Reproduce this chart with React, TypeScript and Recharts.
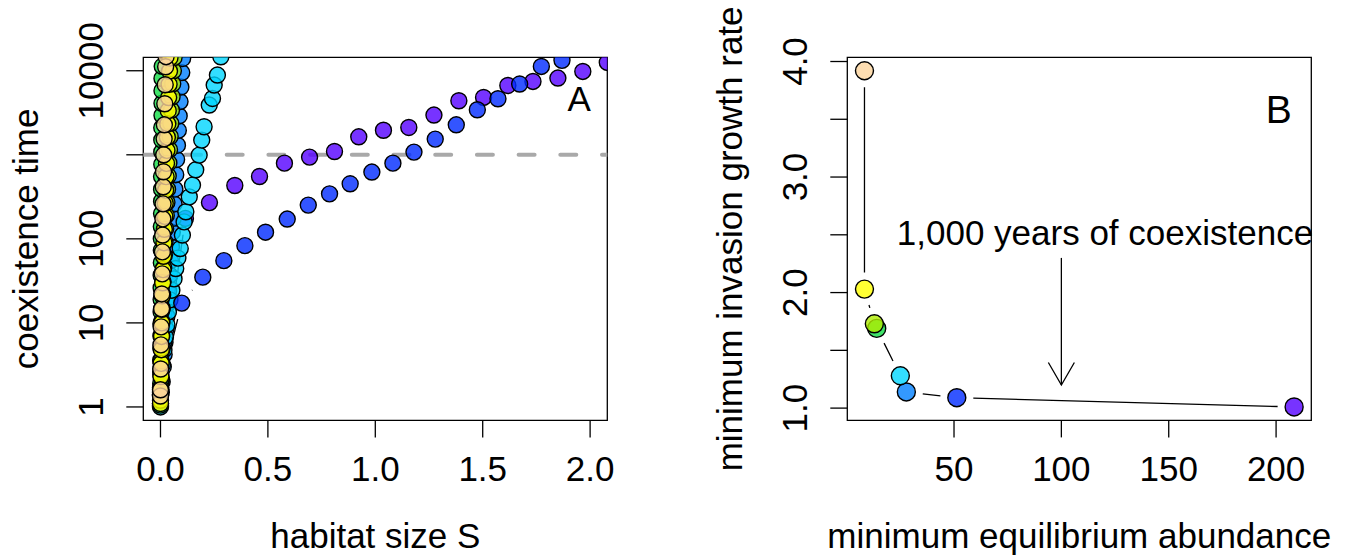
import React from "react";
import {
  ScatterChart,
  Scatter,
  XAxis,
  YAxis,
  ReferenceArea,
  ReferenceLine,
  ReferenceDot,
} from "recharts";

// ---- panel A: coexistence time against habitat size ----
const purpleS = [0.0, 0.116, 0.228, 0.346, 0.461, 0.577, 0.694, 0.81, 0.923, 1.038, 1.156, 1.273, 1.389, 1.504, 1.617, 1.734, 1.85, 1.966, 2.08];
const purpleT = [1.5, 175, 270, 431, 552, 796, 939, 1094, 1637, 1958, 2114, 2971, 4395, 4812, 6681, 7460, 8185, 9810, 12560];

const blueS = [0.0, 0.099, 0.197, 0.295, 0.393, 0.489, 0.59, 0.688, 0.787, 0.883, 0.984, 1.082, 1.18, 1.279, 1.377, 1.475, 1.571, 1.672, 1.773, 1.869];
const blueT = [1.7, 17.2, 35, 55, 83, 120, 172, 252, 343, 452, 623, 796, 1077, 1537, 2275, 3433, 4643, 6950, 11250, 13300];

const cyanS = [0.0, 0.0, 0.005, 0.009, 0.016, 0.023, 0.03, 0.037, 0.044, 0.053, 0.063, 0.071, 0.081, 0.092, 0.102, 0.11, 0.118, 0.134, 0.149, 0.164, 0.18, 0.192, 0.203, 0.227, 0.242, 0.25, 0.265, 0.281];
const cyanT = [1.0, 1.39, 2.1, 3.16, 4.77, 6.8, 9.5, 13.5, 18.8, 24.5, 33.4, 44.3, 59, 76.7, 111, 159, 210, 316, 436, 663, 992, 1496, 2155, 3905, 4680, 6760, 8890, 14680];

const skyS = [0.0, 0.004, 0.008, 0.013, 0.017, 0.021, 0.026, 0.03, 0.034, 0.038, 0.043, 0.047, 0.051, 0.055, 0.059, 0.063, 0.067, 0.071, 0.075, 0.079, 0.083, 0.087, 0.091, 0.095, 0.099, 0.103];
const skyT = [1.1, 1.5, 2.0, 3.0, 4.2, 5.9, 8.5, 12, 17, 24, 37, 55, 80, 120, 175, 260, 390, 580, 880, 1300, 1950, 2900, 4300, 6400, 9500, 14000];

const greenS = [0.0, 0.0, 0.001, 0.001, 0.001, 0.002, 0.002, 0.002, 0.003, 0.003, 0.003, 0.003, 0.004, 0.004, 0.004, 0.004, 0.005, 0.005, 0.005, 0.005, 0.006, 0.006, 0.006, 0.006, 0.007, 0.007, 0.007, 0.007, 0.008];
const greenT = [1.05, 1.4, 1.9, 2.6, 3.6, 5.0, 7.0, 9.8, 13.5, 19, 26, 37, 52, 73, 100, 140, 200, 280, 390, 550, 770, 1080, 1500, 2100, 2950, 4100, 5800, 8100, 11300];

const limeS = [0.0, 0.001, 0.002, 0.003, 0.004, 0.005, 0.006, 0.008, 0.01, 0.012, 0.015, 0.018, 0.021, 0.024, 0.027, 0.03, 0.033, 0.036, 0.039, 0.042, 0.045, 0.048, 0.051, 0.054, 0.057, 0.06, 0.063];
const limeT = [1.2, 1.7, 2.4, 3.5, 5.0, 7.2, 10.4, 15, 21.5, 31, 45, 64, 92, 132, 190, 272, 390, 560, 800, 1150, 1650, 2370, 3400, 4900, 7000, 10000, 14300];

const yellowS = [0.0, 0.001, 0.002, 0.003, 0.004, 0.005, 0.006, 0.007, 0.008, 0.01, 0.012, 0.014, 0.016, 0.018, 0.02, 0.022, 0.024, 0.026, 0.028, 0.03, 0.032, 0.034, 0.036, 0.038, 0.04, 0.042, 0.044];
const yellowT = [1.1, 1.6, 2.3, 3.3, 4.8, 6.9, 10, 14.5, 21, 30, 43, 62, 90, 130, 185, 265, 380, 550, 790, 1130, 1620, 2330, 3350, 4800, 6900, 9900, 14200];

const peachS = [0.0, 0.0, 0.001, 0.002, 0.003, 0.005, 0.006, 0.008, 0.009, 0.01, 0.011, 0.012, 0.013, 0.014, 0.015, 0.017, 0.018, 0.02, 0.022, 0.024, 0.026];
const peachT = [1.35, 1.6, 2.83, 5.47, 8.96, 14.7, 22.1, 38.3, 70, 111, 173, 261, 416, 628, 1000, 1550, 2275, 4050, 6810, 11160, 14700];

const S_TICKS = [0, 0.5, 1, 1.5, 2];
const YEAR_TICKS = [1, 10, 100, 1000, 10000];
const S_DOMAIN = [-0.08, 2.08];
const YEAR_DOMAIN = [0.6918, 14454];
const THRESHOLD_YEARS = 1000;

// ---- panel B: invasion growth rate against equilibrium abundance ----
const abundance = [208.4, 51.3, 27.8, 25.0, 14.0, 12.9, 8.3, 8.3];
const growthRate = [1.01, 1.09, 1.14, 1.28, 1.69, 1.73, 2.03, 3.92];

const COLORS = {
  purple: "#5500FF",
  blue: "#002AFF",
  sky: "#0080FF",
  cyan: "#00D6FF",
  green: "#10DC45",
  lime: "#AFEC00",
  yellow: "#FFFF00",
  peach: "#FCD49D",
};
const panelBColors = [COLORS.purple, COLORS.blue, COLORS.sky, COLORS.cyan, COLORS.green, COLORS.lime, COLORS.yellow, COLORS.peach];

const ABUND_TICKS = [50, 100, 150, 200];
const RATE_TICKS = [1, 1.5, 2, 2.5, 3, 3.5, 4];
const ABUND_DOMAIN = [0.3, 216.4];
const RATE_DOMAIN = [0.8936, 4.0364];

const FONT = "'Liberation Sans', Arial, Helvetica, sans-serif";
const GAP = 16.5;
const ALPHA = 0.8;

// draw order matters: later series sit on top
const seriesA = [
  { key: "purple", color: COLORS.purple, s: purpleS, t: purpleT },
  { key: "sky", color: COLORS.sky, s: skyS, t: skyT },
  { key: "cyan", color: COLORS.cyan, s: cyanS, t: cyanT },
  { key: "blue", color: COLORS.blue, s: blueS, t: blueT },
  { key: "green", color: COLORS.green, s: greenS, t: greenT },
  { key: "lime", color: COLORS.lime, s: limeS, t: limeT },
  { key: "yellow", color: COLORS.yellow, s: yellowS, t: yellowT },
  { key: "peach", color: COLORS.peach, s: peachS, t: peachT },
].map((d) => ({ ...d, data: d.s.map((x, i) => ({ x, y: d.t[i] })) }));

const panelBData = abundance.map((x, i) => ({ x, y: growthRate[i], color: panelBColors[i] }));

// R's type = "b": segments between points, cut back by a gap at each end
function gapPath(points: { x: number; y: number }[]) {
  let d = "";
  for (let i = 1; i < points.length; i++) {
    const a = points[i - 1];
    const b = points[i];
    const dx = b.x - a.x;
    const dy = b.y - a.y;
    const len = Math.hypot(dx, dy);
    if (len <= 2 * GAP) continue;
    const ux = dx / len;
    const uy = dy / len;
    d += `M${a.x + ux * GAP},${a.y + uy * GAP}L${b.x - ux * GAP},${b.y - uy * GAP}`;
  }
  return d;
}

const GapLine = (props: any) => (
  <path d={gapPath(props.points || [])} fill="none" stroke="#000" strokeWidth={1.3} />
);

const txt = { fontSize: 35, fontFamily: FONT, fill: "#000" };

function XTick(fmt: (v: number) => string) {
  return (p: any) => (
    <text x={p.x} y={p.y} dy={43.6} textAnchor="middle" {...txt}>
      {fmt(p.payload.value)}
    </text>
  );
}

function YTick(fmt: (v: number) => string) {
  return (p: any) => {
    const label = fmt(p.payload.value);
    if (!label) return <g />;
    const x = p.x - 23;
    return (
      <text x={x} y={p.y} transform={`rotate(-90, ${x}, ${p.y})`} textAnchor="middle" {...txt}>
        {label}
      </text>
    );
  };
}

const xTitle = (label: string, cx: number) => () => (
  <text x={cx} y={548} textAnchor="middle" {...txt}>
    {label}
  </text>
);

const yTitle = (label: string, bx: number) => () => (
  <text x={bx} y={238.9} transform={`rotate(-90, ${bx}, 238.9)`} textAnchor="middle" {...txt}>
    {label}
  </text>
);

const axisCommon = {
  type: "number" as const,
  allowDataOverflow: true,
  stroke: "#000",
  axisLine: false,
  tickSize: 17,
  tickMargin: 0,
  interval: 0 as const,
  tickLine: { stroke: "#000", strokeWidth: 1.3 },
};

function PanelA() {
  return (
    <ScatterChart
      width={620}
      height={558}
      margin={{ top: 57.3, right: 12.7, bottom: 0, left: 0 }}
    >
      <XAxis
        {...axisCommon}
        dataKey="x"
        domain={S_DOMAIN}
        ticks={S_TICKS}
        height={137.6}
        tick={XTick((v) => v.toFixed(1))}
        label={xTitle("habitat size S", 375.3)}
      />
      <YAxis
        {...axisCommon}
        dataKey="y"
        scale="log"
        domain={YEAR_DOMAIN}
        ticks={YEAR_TICKS}
        width={143.3}
        tick={YTick((v) => (v === 1000 ? "" : String(v)))}
        label={yTitle("coexistence time", 38)}
      />
      <Scatter
        data={[
          { x: S_DOMAIN[0], y: THRESHOLD_YEARS },
          { x: S_DOMAIN[1], y: THRESHOLD_YEARS },
        ]}
        line={{ stroke: "#A9A9A9", strokeWidth: 4, strokeDasharray: "16 25.7", strokeLinecap: "round" }}
        shape={() => <g />}
        isAnimationActive={false}
      />
      {seriesA.map((s) => (
        <Scatter
          key={s.key}
          data={s.data}
          line={GapLine}
          shape={(p: any) => (
            <circle cx={p.cx} cy={p.cy} r={8} fill={s.color} fillOpacity={ALPHA} stroke="#000" strokeWidth={1.4} />
          )}
          isAnimationActive={false}
        />
      ))}
      <ReferenceDot
        x={2.003}
        y={4617}
        ifOverflow="visible"
        shape={(p: any) => (
          <text x={p.cx} y={p.cy} dy={12.5} textAnchor="end" {...txt}>
            A
          </text>
        )}
      />
      <ReferenceArea
        x1={S_DOMAIN[0]}
        x2={S_DOMAIN[1]}
        y1={YEAR_DOMAIN[0]}
        y2={YEAR_DOMAIN[1]}
        ifOverflow="visible"
        fill="none"
        stroke="#000"
        strokeWidth={1.3}
      />
    </ScatterChart>
  );
}

function PanelB() {
  return (
    <ScatterChart
      width={646}
      height={558}
      margin={{ top: 57.3, right: 34.7, bottom: 0, left: 0 }}
    >
      <XAxis
        {...axisCommon}
        dataKey="x"
        domain={ABUND_DOMAIN}
        ticks={ABUND_TICKS}
        height={137.6}
        tick={XTick((v) => String(v))}
        label={xTitle("minimum equilibrium abundance", 379.3)}
      />
      <YAxis
        {...axisCommon}
        dataKey="y"
        domain={RATE_DOMAIN}
        ticks={RATE_TICKS}
        width={147.3}
        tick={YTick((v) => (Number.isInteger(v) ? v.toFixed(1) : ""))}
        label={yTitle("minimum invasion growth rate", 42)}
      />
      <ReferenceLine
        segment={[
          { x: 100, y: 2.3 },
          { x: 100, y: 1.2 },
        ]}
        stroke="#000"
        strokeWidth={1.3}
      />
      <ReferenceDot
        x={100}
        y={1.2}
        shape={(p: any) => (
          <path
            d={`M${p.cx - 13},${p.cy - 22.5}L${p.cx},${p.cy}L${p.cx + 13},${p.cy - 22.5}`}
            fill="none"
            stroke="#000"
            strokeWidth={1.3}
          />
        )}
      />
      <ReferenceDot
        x={120.3}
        y={2.52}
        shape={(p: any) => (
          <text x={p.cx} y={p.cy} dy={12.5} textAnchor="middle" {...txt}>
            1,000 years of coexistence
          </text>
        )}
      />
      <ReferenceDot
        x={207.3}
        y={3.588}
        shape={(p: any) => (
          <text x={p.cx} y={p.cy} dy={14} textAnchor="end" {...txt} fontSize={39}>
            B
          </text>
        )}
      />
      <Scatter
        data={panelBData}
        line={GapLine}
        shape={(p: any) => (
          <circle cx={p.cx} cy={p.cy} r={9} fill={p.payload.color} fillOpacity={ALPHA} stroke="#000" strokeWidth={1.4} />
        )}
        isAnimationActive={false}
      />
      <ReferenceArea
        x1={ABUND_DOMAIN[0]}
        x2={ABUND_DOMAIN[1]}
        y1={RATE_DOMAIN[0]}
        y2={RATE_DOMAIN[1]}
        ifOverflow="visible"
        fill="none"
        stroke="#000"
        strokeWidth={1.3}
      />
    </ScatterChart>
  );
}

export default function App() {
  return (
    <div style={{ position: "absolute", left: 0, top: 0, width: 1346, height: 558, background: "#fff" }}>
      <div style={{ position: "absolute", left: 0, top: 0 }}>
        <PanelA />
      </div>
      <div style={{ position: "absolute", left: 700, top: 0 }}>
        <PanelB />
      </div>
    </div>
  );
}
